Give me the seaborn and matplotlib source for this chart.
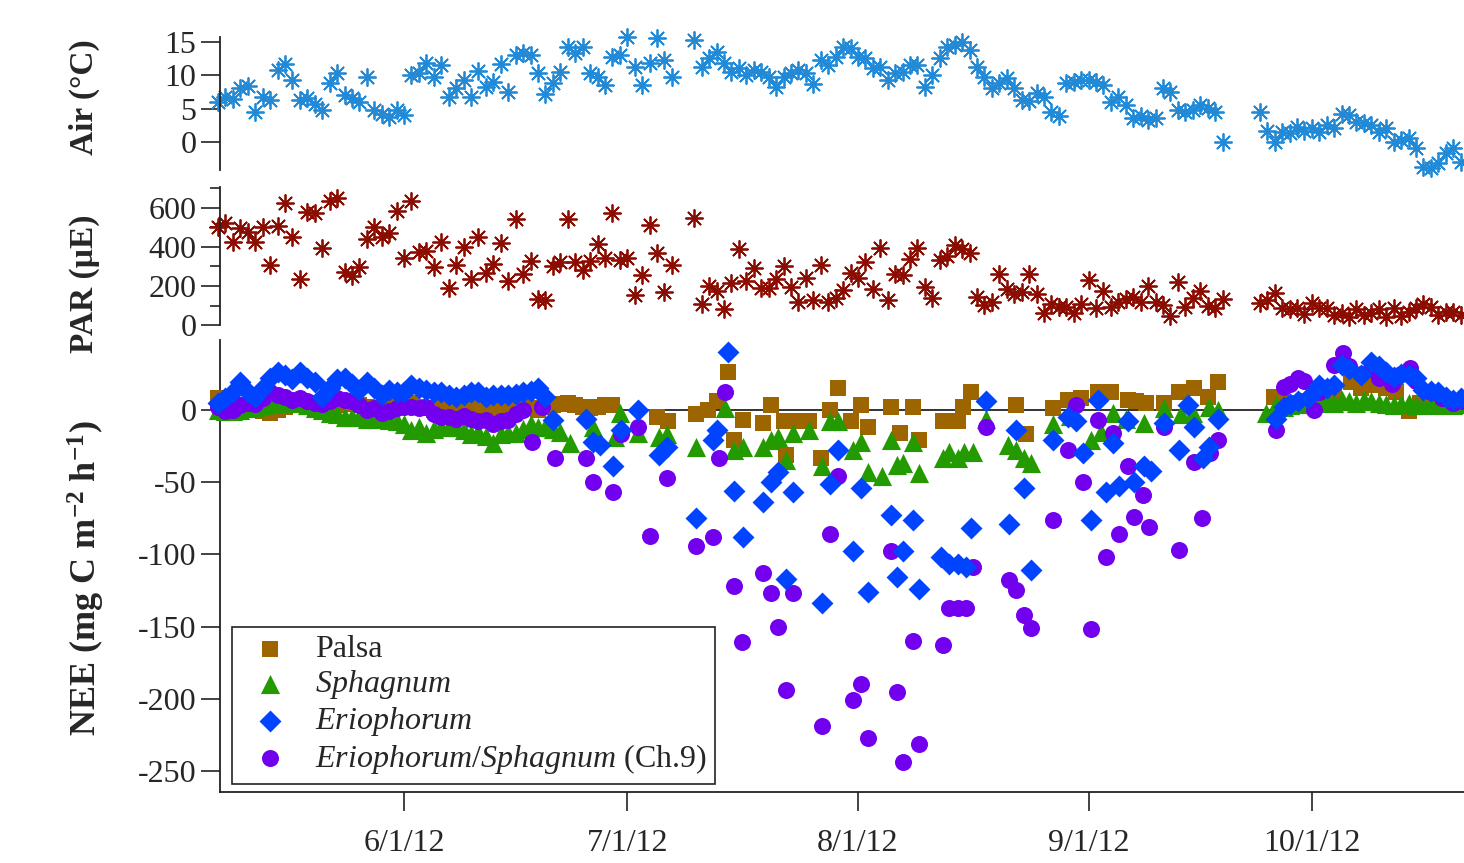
import numpy as np
import pandas as pd
import matplotlib
matplotlib.use("Agg")
import matplotlib.pyplot as plt
import seaborn as sns
import matplotlib.dates as mdates
from matplotlib.ticker import MultipleLocator, FixedLocator

nan = np.nan
START = "2012-05-07"

# ---------------- data ----------------
# daily air temperature (deg C), day 0 = 2012-05-07
air = [6.0,6.7,6.4,8.1,8.4,4.5,6.7,6.3,10.8,11.7, 9.3,6.3,6.6,5.7,4.8,8.8,10.3,7.0,6.6,6.0,
       9.7,4.8,4.2,3.8,4.8,4.0,10.0,10.3,11.8,9.7, 11.5,6.7,8.1,9.3,6.7,10.6,8.2,9.0,11.7,7.5,
       13.0,13.3,13.0,10.3,7.2,8.8,10.5,14.2,13.3,14.2, 10.3,9.7,8.5,12.7,13.0,15.7,11.2,8.5,11.8,15.6,
       12.3,9.7,nan,nan,15.3,11.2,12.6,13.5,11.8,10.5, 11.1,10.0,10.8,10.5,9.7,8.2,9.7,10.3,10.8,10.3,
       8.7,12.3,11.5,12.7,14.2,14.1,12.7,12.6,11.1,11.2, 9.3,10.3,10.5,11.5,11.5,8.2,10.0,12.6,14.2,14.5,
       15.0,13.8,11.2,9.7,8.1,8.8,9.6,8.1,6.3,6.2, 7.3,6.7,4.5,3.9,8.8,9.0,9.3,9.3,9.0,8.5,
       6.0,6.7,5.5,3.6,3.9,3.3,3.6,8.1,7.5,4.8, 4.5,4.8,5.5,5.1,4.5,0.0,nan,nan,nan,nan,
       4.5,1.6,0.0,1.5,1.3,2.2,1.6,2.1,1.5,2.5, 2.1,4.2,4.0,3.0,2.8,2.5,1.5,2.1,0.0,0.3,
       0.6,-0.9,-3.7,-3.9,-3.1,-1.6,-0.9,-3.0]

# daily PAR (uE)
par = [501,522,424,496,476,424,501,310,507,626, 450,238,579,574,393,636,651,274,253,295,
       439,501,450,470,584,346,636,372,377,295, 424,191,310,398,238,450,269,315,419,227,
       543,264,326,134,129,305,321,543,321,284, 326,414,346,574,331,346,155,258,512,367,
       171,310,nan,nan,548,109,202,176,83,217, 388,227,290,191,191,238,305,196,119,243,
       129,310,119,140,181,269,243,321,186,393, 129,264,258,341,393,196,140,331,352,408,
       388,367,145,103,119,264,186,160,170,260, 160,62,109,93,93,62,109,233,88,176,
       93,119,134,145,119,202,119,103,47,222, 93,140,176,98,88,134,nan,nan,nan,nan,
       114,129,165,88,83,88,57,114,88,88, 52,62,41,83,52,62,83,41,88,47,
       67,88,109,93,52,67,67,52]

# NEE (mg C m-2 h-1): measurement day (since 2012-05-07) and value
palsa_day = list(range(0, 54)) + [
    59.0,60.5,64.2,65.8,67.1,68.5,69.3,70.5,73.3,74.3,76.0,76.3,77.3,79.4,81.1,82.3,83.3,85.0,86.4,87.3,
    90.4,91.7,93.4,94.2,97.4,98.2,99.4,100.1,101.2,107.2,108.6,112.2,114.2,116.0,118.2,120.0,122.3,123.4,
    124.7,127.1,129.1,131.2,133.0,134.4,
    141.9,144.0,146.0,148.0,150.0,152.3,153.6,155.4,157.0,158.3,160.1,161.5,163.0,164.3,166.0,167.3]
palsa_nee = [8,5,3,2,1,0,-1,-2,0,2, 3,4,2,0,-1,1,3,4,5,3, 2,1,0,2,3,4,5,2,1,0,
             1,2,3,2,1,0,2,1,0,2, 3,2,1,0,2,3,4,5,3,2, 1,2,3,3] + [
    -5,-8,-3,0,6,26,-21,-7,-9,3,-8,-31,-8,-8,-33,0,15,-8,3,-12,
    2,-16,2,-21,-8,-8,-8,2,12,3,-17,1,7,8,12,12,7,6,
    5,5,12,15,9,19,
    9,5,6,8,10,19,15,17,15,12,-1,5,3,4,3,4]

sphag_day = list(range(0, 47)) + [
    47.3,50.4,53.4,54.0,56.4,59.3,60.4,64.3,68.2,69.3,70.5,73.3,74.3,75.3,76.3,77.3,79.4,81.2,82.3,83.3,
    85.4,86.4,87.3,89.3,90.4,91.3,92.1,93.4,94.2,97.4,98.2,99.4,100.2,101.4,103.2,106.1,107.2,108.3,109.2,
    112.2,114.5,117.3,118.6,120.3,122.0,124.4,127.1,129.4,131.0,133.2,134.4,
    140.8,142.2,143.3,144,145,146,147,148,149,150,151,152,153,154,155,156,157,158,159,160,161,162,163,164,165,166,167]
sphag_nee = [0,-1,-1,0,1,2,3,4,5,5, 6,5,3,1,0,-2,-3,-5,-5,-5, -6,-6,-5,-7,-8,-10,-14,-12,-16,-13,
             -12,-12,-12,-14,-17,-15,-18,-23,-17,-16, -16,-13,-10,-12,-12,-13,-15] + [
    -23,-12,-19,-2,-16,-19,-17,-26,1,-28,-26,-26,-21,-19,-35,-16,-14,-39,-8,-8,
    -28,-22,-43,-46,-21,-38,-37,-22,-44,-33,-29,-33,-29,-29,-6,-24,-28,-33,-37,
    -10,-4,-21,-15,-2,-6,-9,1,-3,-2,2,0,
    -2,3,2,3,4,5,4,5,6,5,7,6,5,7,6,5,4,3,4,5,3,3,4,3,4,3,4]

erio_day = list(range(0, 46)) + [
    49.4,50.4,51.4,53.1,54.1,56.4,59.3,60.4,64.3,66.5,67.1,68.5,69.3,70.5,73.3,74.3,75.2,76.3,77.3,81.2,
    82.3,83.3,85.3,86.4,87.3,90.4,91.2,92.1,93.4,94.2,97.1,98.2,99.5,100.5,101.2,103.2,106.3,107.2,108.3,
    109.2,112.2,114.2,115.3,116.2,117.3,118.2,119.3,120.3,121.1,122.3,123.1,124.4,125.4,127.1,129.1,130.3,
    131.2,132.4,133.2,134.4,
    142.2,143.3,144,145.1,146.5,147.3,148,149,150,151,152,153.6,155,156,157,158,159,160,161,162,163,164,165,166,167]
erio_nee = [5,8,12,19,12,9,15,22,26,24, 21,26,22,19,9,15,21,22,18,14, 19,15,10,14,12,12,17,15,14,12,
            12,10,9,10,12,12,9,10,10,10, 11,12,13,15,9,-7] + [
    -6,-22,-24,-39,-14,0,-31,-26,-75,-21,-14,40,-56,-88,-64,-50,-43,-117,-57,-134,
    -51,-28,-98,-54,-126,-73,-116,-98,-76,-124,-102,-107,-107,-109,-82,6,-79,-14,-54,
    -111,-21,-5,-8,-30,-76,7,-57,-23,-53,-8,-50,-39,-42,-9,-28,3,
    -12,-33,-26,-6,
    -6,2,4,6,8,12,17,15,17,31,28,24,33,30,26,23,25,24,22,14,13,12,9,7,8]

es_day = list(range(0, 42)) + [
    42.2,43.5,45.3,49.4,50.4,53.1,54.1,56.4,58.1,60.4,64.2,66.5,67.3,68.2,69.3,70.4,73.3,74.3,75.2,76.3,
    77.3,81.2,82.3,83.3,85.3,86.4,87.3,90.4,91.3,92.1,93.4,94.2,97.4,98.2,99.4,100.5,101.4,103.2,106.3,
    107.2,108.3,109.2,112.2,114.2,115.3,116.2,117.3,118.2,119.3,120.3,121.1,122.3,123.1,124.3,125.1,127.1,
    129.1,131.2,132.3,133.3,134.4,
    142.2,143.3,144,145.1,146,147.3,148,150,151.2,152,153.6,155,156,157.8,159,160.2,161,163,164.5,166,167.3]
es_nee = [2,-1,0,3,5,4,8,12,10,9, 7,8,6,5,4,6,8,7,6,3, 0,1,-2,-1,1,2,2,1,2,-3,
          -5,-5,-6,-4,-6,-8,-7,-10,-8,-7, -3,0] + [
    -22,2,-33,-33,-50,-57,-17,-12,-87,-47,-94,-88,-33,12,-122,-161,-113,-127,-150,-194,
    -127,-219,-86,-46,-201,-190,-227,-98,-195,-244,-160,-231,-163,-137,-137,-137,-109,-12,-118,
    -125,-142,-151,-76,-28,3,-50,-152,-7,-102,-16,-86,-39,-74,-59,-81,-12,
    -97,-36,-75,-30,-21,
    -14,16,18,22,20,0,12,31,39,30,25,28,22,18,25,29,20,12,8,5,6]

series_names = ["Palsa", "Sphagnum", "Eriophorum", "Eriophorum/Sphagnum (Ch.9)"]
legend_labels = ["Palsa", r"$\it{Sphagnum}$", r"$\it{Eriophorum}$",
                 r"$\it{Eriophorum/Sphagnum}$ (Ch.9)"]
xtick_dates = ["2012-06-01", "2012-07-01", "2012-08-01", "2012-09-01", "2012-10-01"]
xtick_labels = ["6/1/12", "7/1/12", "8/1/12", "9/1/12", "10/1/12"]

# ---------------- style ----------------
sns.set_theme(style="white")
plt.rcParams["font.family"] = ["Liberation Serif", "DejaVu Serif"]
plt.rcParams["mathtext.fontset"] = "custom"
plt.rcParams["mathtext.rm"] = "Liberation Serif"
plt.rcParams["mathtext.it"] = "Liberation Serif:italic"
plt.rcParams["mathtext.bf"] = "Liberation Serif:bold"
plt.rcParams["axes.unicode_minus"] = False

start = pd.Timestamp(START)
def to_dates(days):
    return start + pd.to_timedelta(np.asarray(days, dtype=float), unit="D")

day_idx = np.arange(len(air))
met = pd.DataFrame({"date": to_dates(day_idx), "air": air, "par": par})

fig = plt.figure(figsize=(14.64, 8.63), dpi=100)
L, W = 0.1503, 0.8497
ax1 = fig.add_axes([L, 0.803, W, 0.154])
ax2 = fig.add_axes([L, 0.6234, W, 0.160], sharex=ax1)
ax3 = fig.add_axes([L, 0.0823, W, 0.524], sharex=ax1)

spine_c = "#222222"
tick_fs = 23

ast = (8, 2, 0)
sns.scatterplot(data=met, x="date", y="air", ax=ax1, marker=ast, s=150,
                color="#2189d6", linewidth=1.3, clip_on=False, legend=False)
sns.scatterplot(data=met, x="date", y="par", ax=ax2, marker=ast, s=150,
                color="#8b0c00", linewidth=1.3, clip_on=False, legend=False)

colors = ["#9c6500", "#229a00", "#0044ff", "#7200ee"]
markers = ["s", "^", "D", "o"]
sizes = [140, 190, 125, 150]
days_list = [palsa_day, sphag_day, erio_day, es_day]
vals_list = [palsa_nee, sphag_nee, erio_nee, es_nee]
order = [0, 1, 3, 2]
for i in order:
    df = pd.DataFrame({"date": to_dates(days_list[i]), "nee": vals_list[i]})
    sns.scatterplot(data=df, x="date", y="nee", ax=ax3, marker=markers[i], s=sizes[i],
                    color=colors[i], linewidth=0, label=legend_labels[i], clip_on=False,
                    zorder=3)

ax3.axhline(0, color="#333333", lw=1.4, zorder=1)

for ax in (ax1, ax2, ax3):
    for sp in ("top", "right"):
        ax.spines[sp].set_visible(False)
    ax.spines["left"].set_color(spine_c)
    ax.spines["left"].set_linewidth(1.3)
    ax.tick_params(axis="y", which="major", direction="out", length=14, width=1.2,
                   color=spine_c, labelsize=tick_fs, pad=3, left=True)
    ax.set_xlabel("")
    ax.set_facecolor("none")

for ax in (ax1, ax2):
    ax.spines["bottom"].set_visible(False)
    ax.tick_params(axis="x", which="both", bottom=False, labelbottom=False)

ax1.set_ylim(-4.2, 15.7)
ax1.yaxis.set_major_locator(FixedLocator([0, 5, 10, 15]))
ax2.set_ylim(0, 708)
ax2.yaxis.set_major_locator(FixedLocator([0, 200, 400, 600]))
ax2.yaxis.set_minor_locator(MultipleLocator(100))
ax2.tick_params(axis="y", which="minor", direction="out", length=7, width=1.2,
                color=spine_c, left=True)
ax3.set_ylim(-264.5, 48.5)
ax3.yaxis.set_major_locator(FixedLocator([-250, -200, -150, -100, -50, 0]))

ax3.spines["bottom"].set_color(spine_c)
ax3.spines["bottom"].set_linewidth(1.3)
ax3.set_xlim(start + pd.Timedelta(days=0.27), start + pd.Timedelta(days=167.45))
ax3.xaxis.set_major_locator(FixedLocator(mdates.date2num(pd.to_datetime(xtick_dates))))
ax3.set_xticklabels(xtick_labels)
ax3.tick_params(axis="x", which="major", direction="out", length=14, width=1.2,
                color=spine_c, labelsize=tick_fs, pad=13, bottom=True)

ax1.set_ylabel("Air (°C)", fontsize=24, fontweight="bold")
ax2.set_ylabel("PAR (µE)", fontsize=24, fontweight="bold")
ax3.set_ylabel(r"NEE (mg C m$^{\mathbf{-2}}$ h$^{\mathbf{-1}}$)", fontsize=26, fontweight="bold")
ax1.yaxis.set_label_coords(-0.0965, 0.55)
ax2.yaxis.set_label_coords(-0.0965, 0.30)
ax3.yaxis.set_label_coords(-0.091, 0.473)

handles, labels = ax3.get_legend_handles_labels()
hmap = dict(zip(labels, handles))
leg = ax3.legend([hmap[l] for l in legend_labels], legend_labels, loc="lower left",
                 bbox_to_anchor=(0.0096, 0.018), borderaxespad=0, fontsize=23,
                 frameon=True, fancybox=False, framealpha=1, edgecolor="#222222",
                 borderpad=0.25, labelspacing=0.12, handletextpad=0.44, handlelength=1.9)
leg.get_frame().set_linewidth(1.2)

fig.savefig("out.png", dpi=100)
